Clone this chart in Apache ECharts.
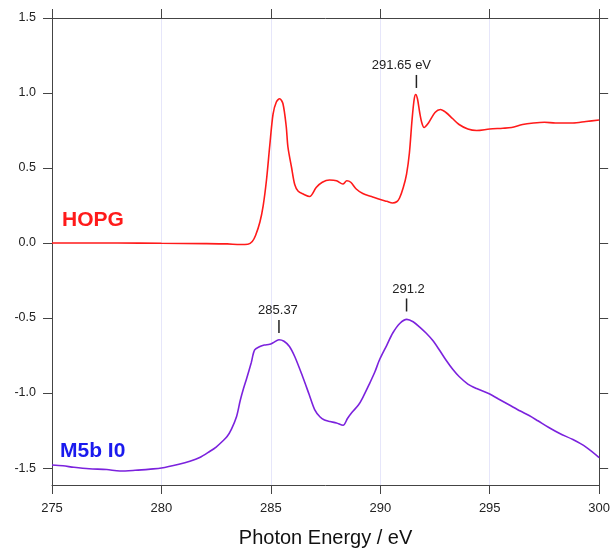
<!DOCTYPE html>
<html>
<head>
<meta charset="utf-8">
<script src="https://cdn.jsdelivr.net/npm/echarts@6/dist/echarts.min.js"></script>
<style>
  html, body { margin: 0; padding: 0; background: #fff; }
  #main { width: 613px; height: 554px; }
</style>
</head>
<body>
<div id="main"></div>
<script>
// HOPG (red) spectrum: photon energy (eV), intensity
var hopgX = [275, 276, 278, 280, 282, 283, 283.6, 283.95, 284.15, 284.3, 284.5, 284.65, 284.8, 284.95, 285.1, 285.25, 285.4,
    285.55, 285.7, 285.78, 285.95, 286.09, 286.25, 286.5, 286.77, 287.07, 287.35, 287.68, 288.0, 288.29, 288.47, 288.65,
    288.9, 289.2, 289.6, 290.0, 290.3, 290.56, 290.75, 290.88, 291.05, 291.2, 291.33, 291.45, 291.55, 291.62, 291.7, 291.8,
    291.9, 292.0, 292.2, 292.5, 292.75, 293.0, 293.3, 293.6, 294.0, 294.4, 295.0, 295.6, 296.0, 296.5, 297.0, 297.5,
    298.0, 298.8, 299.4, 300.0];
var hopgY = [0.0, 0.0, 0.0, -0.002, -0.004, -0.006, -0.01, -0.008, 0.01, 0.05, 0.14, 0.25, 0.42, 0.65, 0.86, 0.94, 0.962,
    0.93, 0.78, 0.64, 0.5, 0.39, 0.345, 0.325, 0.31, 0.37, 0.405, 0.42, 0.415, 0.393, 0.415, 0.405,
    0.36, 0.33, 0.31, 0.29, 0.278, 0.267, 0.275, 0.30, 0.37, 0.46, 0.60, 0.82, 0.96, 0.99, 0.96, 0.87,
    0.8, 0.77, 0.80, 0.87, 0.89, 0.87, 0.83, 0.79, 0.76, 0.75, 0.76, 0.765, 0.77, 0.79, 0.80, 0.805,
    0.80, 0.80, 0.81, 0.82];

// M5b I0 (purple) spectrum
var i0X = [275.0, 275.5, 276.0, 276.7, 277.5, 278.1, 278.8, 279.5, 280.0, 280.8, 281.3, 281.75, 282.2, 282.5, 282.8,
    283.0, 283.2, 283.43, 283.6, 283.75, 283.9, 284.1, 284.26, 284.5, 284.7, 284.95, 285.1, 285.37, 285.6, 285.85,
    286.1, 286.45, 286.75, 287.0, 287.25, 287.45, 287.7, 288.0, 288.3, 288.5, 288.7, 289.0, 289.2, 289.5, 289.75,
    289.96, 290.3, 290.57, 290.9, 291.21, 291.5, 291.8, 292.09, 292.4, 292.7, 293.0, 293.3, 293.6, 294.0, 294.4,
    295.0, 295.4, 295.9, 296.4, 296.8, 297.2, 297.7, 298.2, 298.8, 299.4, 300.0];
var i0Y = [-1.48, -1.485, -1.495, -1.505, -1.51, -1.52, -1.515, -1.507, -1.50, -1.475, -1.455, -1.43, -1.39, -1.36, -1.32,
    -1.29, -1.24, -1.158, -1.05, -0.97, -0.90, -0.80, -0.713, -0.69, -0.68, -0.675, -0.665, -0.645, -0.655, -0.69,
    -0.76, -0.89, -1.01, -1.11, -1.16, -1.18, -1.19, -1.20, -1.215, -1.17, -1.13, -1.08, -1.03, -0.94, -0.86,
    -0.78, -0.68, -0.60, -0.535, -0.509, -0.525, -0.56, -0.60, -0.65, -0.713, -0.78, -0.84, -0.89, -0.94, -0.97,
    -1.007, -1.04, -1.08, -1.12, -1.15, -1.185, -1.23, -1.27, -1.31, -1.36, -1.43];

var xTicks = [275, 280, 285, 290, 295, 300];
var yTicks = [-1.5, -1.0, -0.5, 0, 0.5, 1.0, 1.5];

// peak annotations: [energy, tick centre, text]
var hopgPeaks = [[291.65, 1.077, '291.65 eV']];
var i0Peaks = [[285.37, -0.557, '285.37'], [291.2, -0.413, '291.2']];

function pairs(xs, ys) {
    return xs.map(function (x, i) { return [x, ys[i]]; });
}

function peakMarks(list, offsets) {
    return list.map(function (p, i) {
        return {
            coord: [p[0], p[1]],
            label: { formatter: p[2], offset: offsets[i] }
        };
    });
}

var axisColor = '#444';
var fontFamily = '"Liberation Sans", Arial, Helvetica, sans-serif';

var chart = echarts.init(document.getElementById('main'));
chart.setOption({
    backgroundColor: '#fff',
    animation: false,
    textStyle: { fontFamily: fontFamily },
    grid: { left: 52, right: 13, top: 18, bottom: 69 },
    xAxis: [
        {
            type: 'value', min: 275, max: 300, interval: 5,
            name: 'Photon Energy / eV', nameLocation: 'middle', nameGap: 43,
            nameTextStyle: { fontSize: 20, color: '#111', fontFamily: fontFamily },
            axisLine: { show: true, onZero: false, lineStyle: { color: axisColor, width: 1 } },
            axisTick: { show: true, inside: false, length: 9, lineStyle: { color: axisColor } },
            axisLabel: { fontSize: 13, color: '#222', margin: 17 },
            splitLine: { show: true, lineStyle: { color: '#e6e6fa', width: 1 } }
        },
        {
            type: 'value', position: 'top', min: 275, max: 300, interval: 5,
            axisLine: { show: true, onZero: false, lineStyle: { color: axisColor, width: 1 } },
            axisTick: { show: true, inside: false, length: 9, lineStyle: { color: axisColor } },
            axisLabel: { show: false },
            splitLine: { show: false }
        }
    ],
    yAxis: [
        {
            type: 'value', min: -1.613, max: 1.5,
            axisLine: { show: true, onZero: false, lineStyle: { color: axisColor, width: 1 } },
            axisTick: { show: true, inside: false, length: 9, customValues: yTicks, lineStyle: { color: axisColor } },
            axisLabel: {
                fontSize: 12.5, color: '#222', margin: 16, customValues: yTicks,
                formatter: function (v) { return v.toFixed(1); }
            },
            splitLine: { show: false }
        },
        {
            type: 'value', position: 'right', min: -1.613, max: 1.5,
            axisLine: { show: true, onZero: false, lineStyle: { color: axisColor, width: 1 } },
            axisTick: { show: true, inside: false, length: 9, customValues: yTicks, lineStyle: { color: axisColor } },
            axisLabel: { show: false },
            splitLine: { show: false }
        }
    ],
    series: [
        {
            name: 'HOPG',
            type: 'line',
            data: pairs(hopgX, hopgY),
            smooth: 0.3,
            symbol: 'none',
            lineStyle: { color: '#ff1a1a', width: 1.6 },
            markPoint: {
                symbol: 'rect',
                symbolSize: [1.5, 13],
                itemStyle: { color: '#222' },
                label: { show: true, position: 'top', distance: 3, color: '#222', fontSize: 13 },
                data: peakMarks(hopgPeaks, [[-15, 0]])
            }
        },
        {
            name: 'M5b I0',
            type: 'line',
            data: pairs(i0X, i0Y),
            smooth: 0.3,
            symbol: 'none',
            lineStyle: { color: '#7b22dd', width: 1.6 },
            markPoint: {
                symbol: 'rect',
                symbolSize: [1.5, 13],
                itemStyle: { color: '#222' },
                label: { show: true, position: 'top', distance: 3, color: '#222', fontSize: 13 },
                data: peakMarks(i0Peaks, [[-1, 0], [2, 0]])
            }
        }
    ],
    graphic: [
        {
            type: 'text', left: 62, top: 210,
            style: { text: 'HOPG', fill: '#ff1a1a', font: 'bold 21px ' + fontFamily }
        },
        {
            type: 'text', left: 60, top: 441,
            style: { text: 'M5b I0', fill: '#1a1aee', font: 'bold 21px ' + fontFamily }
        }
    ]
});
</script>
</body>
</html>
